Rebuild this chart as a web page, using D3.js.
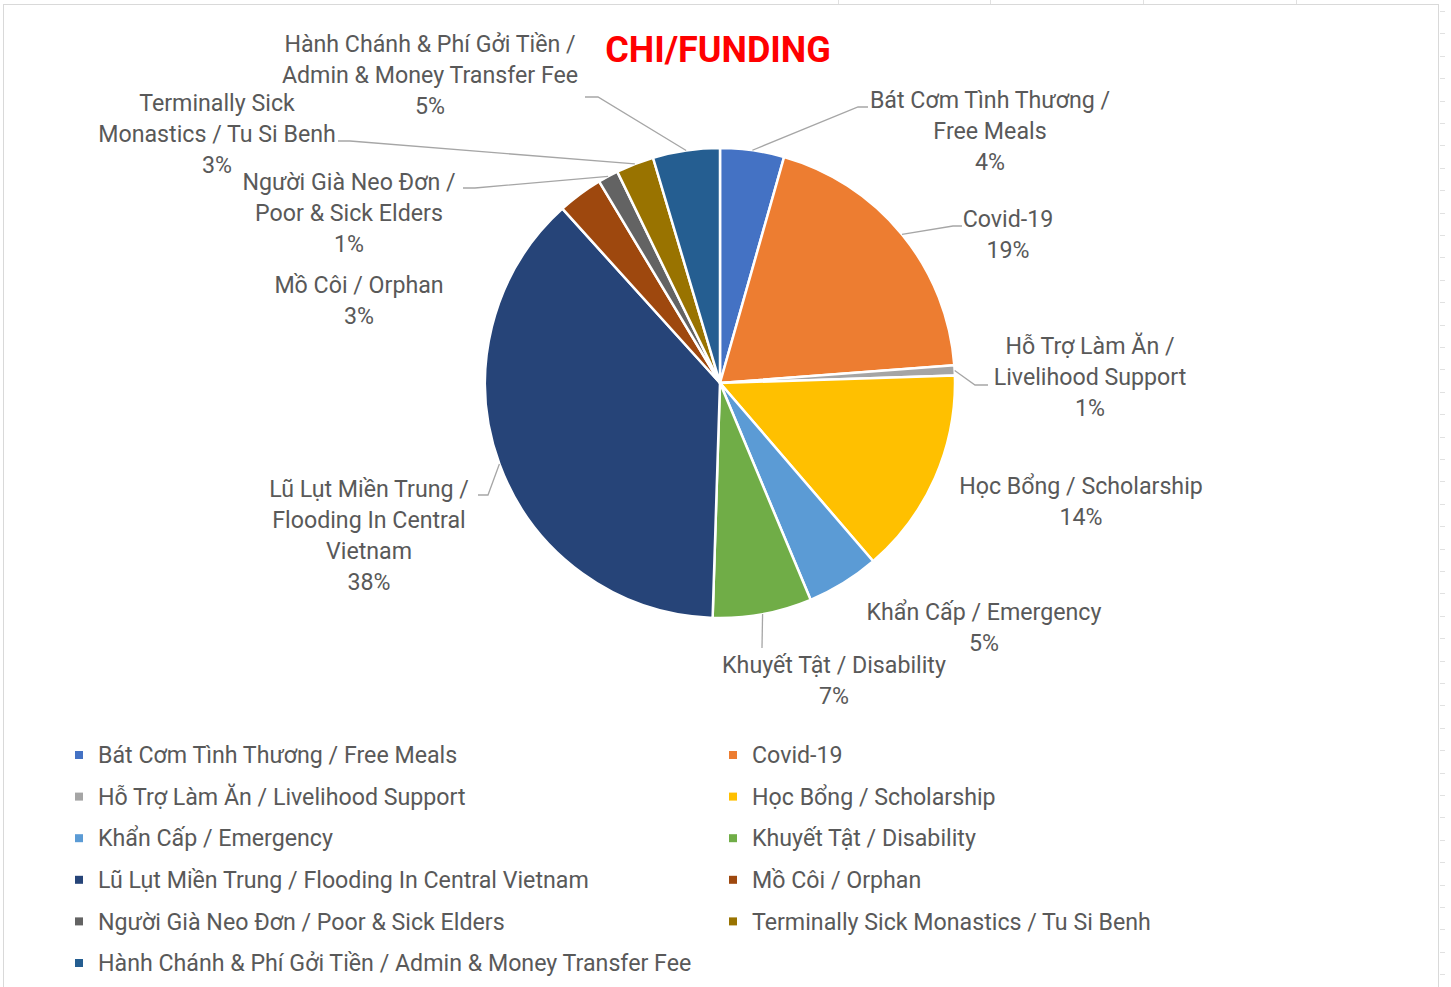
<!DOCTYPE html>
<html>
<head>
<meta charset="utf-8">
<script src="https://cdn.jsdelivr.net/npm/d3@7"></script>
<style>
  html, body { margin: 0; padding: 0; background: #fff; }
  svg { display: block; }
</style>
</head>
<body>
<div id="chart"></div>
<script>
// data
const categories = [
    "Bát Cơm Tình Thương / Free Meals",
    "Covid-19",
    "Hỗ Trợ Làm Ăn / Livelihood Support",
    "Học Bổng / Scholarship",
    "Khẩn Cấp / Emergency",
    "Khuyết Tật / Disability",
    "Lũ Lụt Miền Trung / Flooding In Central Vietnam",
    "Mồ Côi / Orphan",
    "Người Già Neo Đơn / Poor & Sick Elders",
    "Terminally Sick Monastics / Tu Si Benh",
    "Hành Chánh & Phí Gởi Tiền / Admin & Money Transfer Fee"
];
const values = [4.4, 19.4, 0.7, 14.2, 5.0, 6.8, 37.8, 3.1, 1.4, 2.6, 4.6];

// how the data labels wrap (text only)
const labelLines = [
    ["Bát Cơm Tình Thương /", "Free Meals"],
    ["Covid-19"],
    ["Hỗ Trợ Làm Ăn /", "Livelihood Support"],
    ["Học Bổng / Scholarship"],
    ["Khẩn Cấp / Emergency"],
    ["Khuyết Tật / Disability"],
    ["Lũ Lụt Miền Trung /", "Flooding In Central", "Vietnam"],
    ["Mồ Côi / Orphan"],
    ["Người Già Neo Đơn /", "Poor & Sick Elders"],
    ["Terminally Sick", "Monastics / Tu Si Benh"],
    ["Hành Chánh & Phí Gởi Tiền /", "Admin & Money Transfer Fee"]
];

// styles / layout
const colors = ["#4472C4", "#ED7D31", "#A5A5A5", "#FFC000", "#5B9BD5", "#70AD47",
    "#264478", "#9E480E", "#636363", "#997300", "#255E91"];

// label anchor (centre of first line), relative to pie centre
const labelPos = [
    [270, -283], [288, -164], [370, -37], [361, 103], [264, 229], [114, 282],
    [-351, 106], [-361, -98], [-371, -201], [-503, -280], [-290, -339]
];
// leader lines: [endX, endY, elbowX] relative to pie centre, null = none
const leaders = [
    [148, -276, 138], [242, -157, 233], [268, 2, 255], null, null, [42, 265, 42],
    [-242, 112, -232], null, [-257, -195, -245], [-382, -242, -370], [-135, -286, -122]
];

const width = 1451, height = 987;
const cx = 720, cy = 383, radius = 235;
const lineH = 31;
const font = "Roboto, 'Noto Sans', sans-serif";
const fontSize = 23.2;
const textColor = "#595959";

const data = categories.map((c, i) => ({name: c, value: values[i], i: i}));
const total = d3.sum(values);
const pct = d3.format(".0%");

const svg = d3.select("#chart").append("svg")
    .attr("width", width)
    .attr("height", height);

// spreadsheet grid peeking around the chart object
const grid = svg.append("g").attr("stroke", "#e1e1e1").attr("stroke-width", 1);
[838, 990, 1143, 1296].forEach(x => {
    grid.append("line").attr("x1", x + 0.5).attr("x2", x + 0.5).attr("y1", 0).attr("y2", 4);
});
d3.range(11, height, 22.4).forEach(y => {
    grid.append("line").attr("x1", 1440).attr("x2", 1445)
        .attr("y1", Math.round(y) + 0.5).attr("y2", Math.round(y) + 0.5);
});

// chart area border
svg.append("rect")
    .attr("x", 3.5).attr("y", 4.5)
    .attr("width", 1435).attr("height", height + 10)
    .attr("fill", "#fff")
    .attr("stroke", "#d9d9d9");

// title
svg.append("text")
    .attr("x", 718).attr("y", 62)
    .attr("text-anchor", "middle")
    .attr("font-family", font)
    .attr("font-weight", "bold")
    .attr("font-size", 36)
    .attr("fill", "#FF0000")
    .text("CHI/FUNDING");

const pie = d3.pie().sort(null).value(d => d.value);
const arc = d3.arc().innerRadius(0).outerRadius(radius);
const edge = d3.arc().innerRadius(radius).outerRadius(radius);

const g = svg.append("g")
    .attr("transform", "translate(" + cx + "," + cy + ")");

const arcs = pie(data);

g.selectAll("path.slice")
    .data(arcs)
    .enter()
    .append("path")
    .attr("class", "slice")
    .attr("d", arc)
    .attr("fill", d => colors[d.data.i])
    .attr("stroke", "#fff")
    .attr("stroke-width", 2.5)
    .attr("stroke-linejoin", "round");

// leader lines
g.selectAll("path.leader")
    .data(arcs.filter(d => leaders[d.data.i]))
    .enter()
    .append("path")
    .attr("class", "leader")
    .attr("fill", "none")
    .attr("stroke", "#a6a6a6")
    .attr("stroke-width", 1.3)
    .attr("d", d => {
        const p = edge.centroid(d);
        const l = leaders[d.data.i];
        return d3.line()([p, [l[2], l[1]], [l[0], l[1]]]);
    });

// data labels
const labels = g.selectAll("text.label")
    .data(arcs)
    .enter()
    .append("text")
    .attr("class", "label")
    .attr("text-anchor", "middle")
    .attr("font-family", font)
    .attr("font-size", fontSize)
    .attr("fill", textColor);

labels.each(function (d) {
    const lines = labelLines[d.data.i].concat([pct(d.data.value / total)]);
    const pos = labelPos[d.data.i];
    d3.select(this).selectAll("tspan")
        .data(lines)
        .enter()
        .append("tspan")
        .attr("x", pos[0])
        .attr("y", (t, k) => pos[1] + k * lineH)
        .attr("dy", "0.35em")
        .text(t => t);
});

// legend
const legendCols = [75, 729];
const legendTop = 755, legendStep = 41.6;

const legend = svg.append("g").attr("class", "legend")
    .selectAll("g")
    .data(data)
    .enter()
    .append("g")
    .attr("transform", (d, i) => "translate(" + legendCols[i % 2] + "," + (legendTop + Math.floor(i / 2) * legendStep) + ")");

legend.append("rect")
    .attr("x", 0).attr("y", -4)
    .attr("width", 8).attr("height", 8)
    .attr("fill", d => colors[d.i]);

legend.append("text")
    .attr("x", 23)
    .attr("dy", "0.35em")
    .attr("font-family", font)
    .attr("font-size", fontSize)
    .attr("fill", textColor)
    .text(d => d.name);
</script>
</body>
</html>
